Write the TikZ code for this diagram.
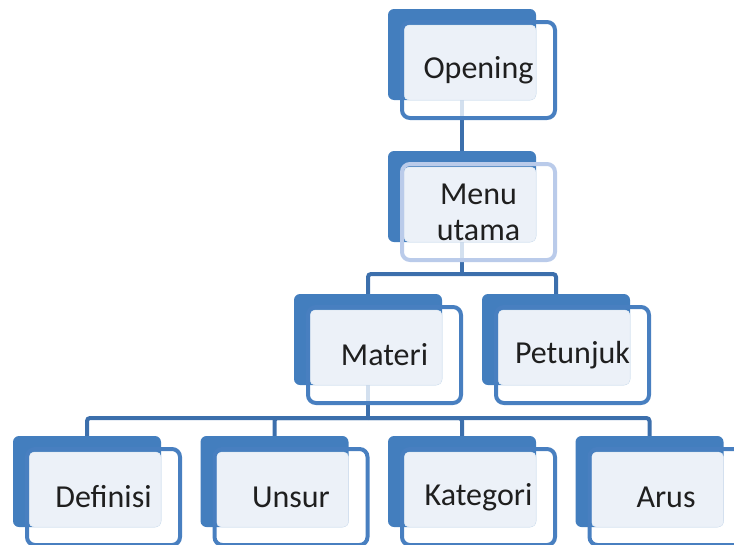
\documentclass[tikz,border=0pt]{standalone}
\usepackage{fontspec}
\setmainfont{Carlito}
\usetikzlibrary{calc,backgrounds}

\definecolor{boxblue}{RGB}{67,126,190}
\definecolor{boxline}{RGB}{72,127,192}
\definecolor{boxlite}{RGB}{236,241,248}
\definecolor{linkblue}{RGB}{60,111,172}
\definecolor{menuline}{RGB}{186,203,234}

\begin{document}
\begin{tikzpicture}[x=1pt, y=-1pt,
 back/.style={fill=boxblue, rounded corners=6pt, minimum width=148pt, minimum height=91pt, inner sep=0pt, outer sep=0pt},
 lite/.style={fill=boxlite, draw=boxlite!90!boxblue, line width=0.5pt, rounded corners=5pt, minimum width=132pt, minimum height=75pt, inner sep=0pt, outer sep=0pt, anchor=south east},
 frame/.style={draw=boxline, line width=4pt, rounded corners=8pt, minimum width=153pt, minimum height=96pt, inner sep=0pt, outer sep=0pt, align=center, text=black!88, font=\fontsize{32}{36}\selectfont},
 link/.style={draw=linkblue, line width=4pt, rounded corners=3pt},
 stub/.style={draw=boxlite!85!boxblue, line width=4pt}]

\useasboundingbox (0,0) rectangle (734,544);

% top
\node[back] (open-b) at (462,54.5) {};
\node[lite] (open-l) at (open-b.south east) {};
\node[frame] (open) at ($(open-b)+(16.5,15.5)$) {Opening};

\node[back] (menu-b) at (462,196.5) {};
\node[lite] (menu-l) at (menu-b.south east) {};
\node[frame, draw=menuline] (menu) at ($(menu-b)+(16.5,15.5)$) {Menu\\utama};

% second row
\node[back] (materi-b) at (368,339.5) {};
\node[lite] (materi-l) at (materi-b.south east) {};
\node[frame] (materi) at ($(materi-b)+(16.5,15.5)$) {Materi};

\node[back] (petunjuk-b) at (556,339.5) {};
\node[lite] (petunjuk-l) at (petunjuk-b.south east) {};
\node[frame] (petunjuk) at ($(petunjuk-b)+(16.5,15.5)$) {Petunjuk};

% bottom row
\foreach \n/\x/\t in {definisi/87/Definisi, unsur/274.5/Unsur, kategori/462/Kategori, arus/649.5/Arus}{
 \node[back] (\n-b) at (\x,481.5) {};
 \node[lite] (\n-l) at (\n-b.south east) {};
 \node[frame] (\n) at ($(\n-b)+(16.5,15.5)$) {\t};
}

% connectors
\begin{scope}[on background layer]
\draw[stub] (open-b.south) -- (open-b.south |- open.south);
\draw[link] (open-b.south |- open.south) -- (menu-b.north);

\coordinate (menu-bus) at ($(menu-b.south |- menu.south)+(0,14)$);
\draw[stub] (menu-b.south) -- (menu-b.south |- menu.south);
\draw[link] (menu-b.south |- menu.south) -- (menu-bus);
\draw[link] (menu-bus) -| (materi-b.north);
\draw[link] (menu-bus) -| (petunjuk-b.north);

\coordinate (materi-bus) at ($(materi-b.south |- materi.south)+(0,15)$);
\draw[stub] (materi-b.south) -- (materi-b.south |- materi.south);
\draw[link] (materi-b.south |- materi.south) -- (materi-bus);
\foreach \n in {definisi, unsur, kategori, arus}
 \draw[link] (materi-bus) -| (\n-b.north);
\end{scope}

\end{tikzpicture}
\end{document}
